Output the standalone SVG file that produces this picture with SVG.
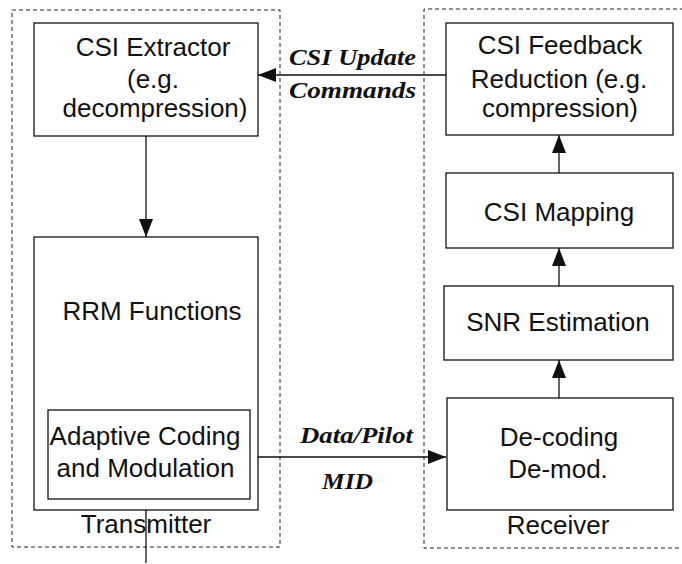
<svg xmlns="http://www.w3.org/2000/svg" width="682" height="564" viewBox="0 0 682 564">
<style>
.box{fill:#fff;stroke:#111;stroke-width:1.3}
.dash{fill:none;stroke:#222;stroke-width:1;stroke-dasharray:4 3}
.ln{fill:none;stroke:#111;stroke-width:1.3}
.t{font-family:"Liberation Sans",Arial,sans-serif;font-size:26px;fill:#111;text-anchor:middle}
.lb{font-family:"Liberation Serif","Times New Roman",serif;font-size:23px;font-weight:bold;font-style:italic;fill:#111}
</style>
<defs>
<marker id="ah" viewBox="0 0 18 14" refX="18" refY="7" markerWidth="18" markerHeight="14" markerUnits="userSpaceOnUse" orient="auto">
<path d="M0,0 L18,7 L0,14 Z" fill="#111"/>
</marker>
</defs>
<rect width="682" height="564" fill="#fff"/>
<g id="transmitter">
<rect class="dash" x="12" y="10" width="268" height="537"/>
<text class="t" x="146" y="533">Transmitter</text>
</g>
<g id="receiver">
<path class="dash" d="M684,9 H424 V548 H684"/>
<text class="t" x="558" y="534">Receiver</text>
</g>
<g id="csi-extractor">
<rect class="box" x="34" y="23" width="224" height="113"/>
<text class="t" x="153" y="56">CSI Extractor</text>
<text class="t" x="153" y="88">(e.g.</text>
<text class="t" x="155" y="117">decompression)</text>
</g>
<g id="rrm">
<rect class="box" x="34" y="237" width="224" height="273"/>
<text class="t" x="152" y="320">RRM Functions</text>
</g>
<g id="acm">
<rect class="box" x="48" y="410" width="202" height="89"/>
<text class="t" x="145" y="445">Adaptive Coding</text>
<text class="t" x="145.5" y="477">and Modulation</text>
</g>
<g id="csi-feedback">
<rect class="box" x="446" y="23" width="227" height="112"/>
<text class="t" x="560" y="54">CSI Feedback</text>
<text class="t" x="559" y="88">Reduction (e.g.</text>
<text class="t" x="560" y="117">compression)</text>
</g>
<g id="csi-mapping">
<rect class="box" x="446" y="173" width="227" height="75"/>
<text class="t" x="559" y="221">CSI Mapping</text>
</g>
<g id="snr">
<rect class="box" x="444" y="286" width="229" height="74"/>
<text class="t" x="558" y="331">SNR Estimation</text>
</g>
<g id="decoding">
<rect class="box" x="447" y="398" width="226" height="112"/>
<text class="t" x="559" y="446">De-coding</text>
<text class="t" x="558" y="478">De-mod.</text>
</g>
<g id="connectors">
<line class="ln" x1="146" y1="136" x2="146" y2="237" marker-end="url(#ah)"/>
<line class="ln" x1="446" y1="75" x2="258" y2="75" marker-end="url(#ah)"/>
<line class="ln" x1="258" y1="457" x2="446" y2="457" marker-end="url(#ah)"/>
<line class="ln" x1="559" y1="173" x2="559" y2="135" marker-end="url(#ah)"/>
<line class="ln" x1="559" y1="286" x2="559" y2="248" marker-end="url(#ah)"/>
<line class="ln" x1="559" y1="398" x2="559" y2="360" marker-end="url(#ah)"/>
<line class="ln" x1="146" y1="510" x2="146" y2="563"/>
<text class="lb" x="289" y="65" textLength="127" lengthAdjust="spacingAndGlyphs">CSI Update</text>
<text class="lb" x="289" y="98" textLength="127" lengthAdjust="spacingAndGlyphs">Commands</text>
<text class="lb" x="300" y="443" textLength="113" lengthAdjust="spacingAndGlyphs">Data/Pilot</text>
<text class="lb" x="322" y="489" textLength="51" lengthAdjust="spacingAndGlyphs">MID</text>
</g>
</svg>
